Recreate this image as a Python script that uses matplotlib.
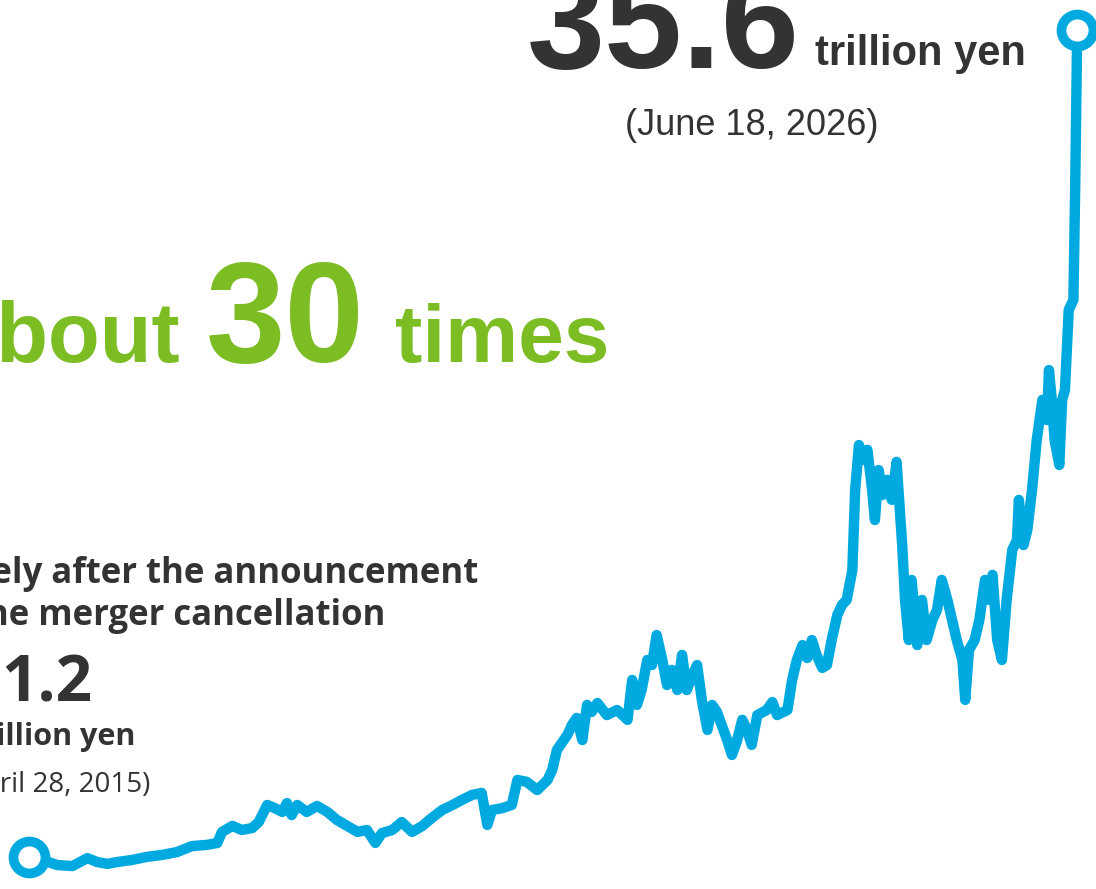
import matplotlib.pyplot as plt

W, H = 1096, 889

# market capitalisation, trillion yen
years = [2015.32, 2015.46, 2015.62, 2015.78, 2015.94, 2016.04, 2016.15, 2016.26, 2016.41, 2016.57,
         2016.73, 2016.89, 2017.05, 2017.21, 2017.32, 2017.37, 2017.48, 2017.58, 2017.69, 2017.76,
         2017.85, 2017.93, 2018.01, 2018.06, 2018.11, 2018.17, 2018.27, 2018.38, 2018.49, 2018.59,
         2018.70, 2018.81, 2018.91, 2019.00, 2019.07, 2019.18, 2019.28, 2019.39, 2019.50, 2019.60,
         2019.71, 2019.82, 2019.92, 2020.03, 2020.13, 2020.19, 2020.24, 2020.35, 2020.45, 2020.51,
         2020.61, 2020.72, 2020.83, 2020.88, 2020.93, 2021.04, 2021.09, 2021.14, 2021.20, 2021.25,
         2021.30, 2021.36, 2021.46, 2021.57, 2021.68, 2021.73, 2021.78, 2021.83, 2021.89, 2021.94,
         2021.99, 2022.05, 2022.10, 2022.15, 2022.21, 2022.26, 2022.31, 2022.37, 2022.42, 2022.47,
         2022.53, 2022.58, 2022.63, 2022.74, 2022.79, 2022.84, 2022.90, 2022.95, 2023.00, 2023.06,
         2023.16, 2023.22, 2023.27, 2023.38, 2023.43, 2023.48, 2023.54, 2023.59, 2023.64, 2023.69,
         2023.75, 2023.80, 2023.85, 2023.91, 2023.96, 2024.01, 2024.07, 2024.10, 2024.14, 2024.18,
         2024.23, 2024.28, 2024.31, 2024.35, 2024.39, 2024.44, 2024.49, 2024.54, 2024.60, 2024.63,
         2024.67, 2024.70, 2024.76, 2024.81, 2024.86, 2024.92, 2024.97, 2025.02, 2025.08, 2025.13,
         2025.18, 2025.24, 2025.27, 2025.31, 2025.37, 2025.42, 2025.48, 2025.52, 2025.56, 2025.61,
         2025.66, 2025.71, 2025.77, 2025.82, 2025.84, 2025.89, 2025.93, 2025.98, 2026.03, 2026.09,
         2026.14, 2026.16, 2026.19, 2026.22, 2026.27, 2026.30, 2026.33, 2026.37, 2026.42, 2026.44,
         2026.46]
values = [1.21, 1.08, 0.87, 0.83, 1.16, 1.00, 0.92, 1.00, 1.08, 1.21,
          1.29, 1.41, 1.66, 1.71, 1.79, 2.25, 2.50, 2.33, 2.41, 2.66,
          3.37, 3.24, 3.08, 3.45, 2.95, 3.37, 3.08, 3.33, 3.08, 2.75,
          2.50, 2.25, 2.33, 1.79, 2.20, 2.33, 2.66, 2.25, 2.50, 2.83,
          3.16, 3.37, 3.58, 3.79, 3.87, 2.54, 3.16, 3.24, 3.37, 4.41,
          4.33, 3.99, 4.41, 4.83, 5.66, 6.28, 6.70, 6.99, 6.07, 7.53,
          7.24, 7.61, 7.11, 7.32, 6.91, 8.57, 7.53, 8.15, 9.40, 9.19,
          10.44, 9.40, 8.36, 8.99, 8.15, 9.61, 8.15, 8.78, 9.19, 7.74,
          6.49, 7.53, 7.24, 6.07, 5.45, 5.99, 6.91, 6.49, 5.87, 7.11,
          7.32, 7.65, 7.11, 7.32, 8.57, 9.40, 10.02, 9.48, 10.23, 9.61,
          9.07, 9.19, 10.23, 11.27, 11.69, 11.90, 13.14, 16.47, 18.34, 17.72,
          18.14, 16.47, 15.22, 17.30, 16.26, 16.89, 16.06, 17.64, 14.18, 11.90,
          10.23, 12.73, 10.02, 11.90, 10.23, 11.06, 11.48, 12.73, 11.90, 11.06,
          10.23, 9.40, 7.74, 9.82, 10.23, 11.06, 12.73, 11.90, 12.94, 10.23,
          9.40, 11.90, 13.98, 14.39, 16.06, 14.18, 14.81, 16.47, 18.55, 20.22,
          19.38, 21.46, 20.22, 18.55, 17.51, 20.22, 20.63, 23.96, 24.38, 29.37,
          35.61]

blue = "#00a9df"
green = "#7bbd23"
dark = "#333333"

fig = plt.figure(figsize=(W / 100, H / 100), dpi=100)
ax = fig.add_axes([0, 0, 1, 1])
ax.plot(years, values, color=blue, lw=7.5, solid_joinstyle="round", solid_capstyle="round")
# start / end points
ax.plot([years[0], years[-1]], [values[0], values[-1]], "o", ms=23, mfc="white",
        mec=blue, mew=7)
ax.set_xlim(2015.01, 2026.66)
ax.set_ylim(-0.125, 36.85)
ax.axis("off")


def txt(x, y, s, **kw):
    # place text by pixel position (y measured from the top)
    fig.text(x / W, 1 - y / H, s, va="baseline", **kw)


arial = "Liberation Sans"
segoe = "Open Sans"

txt(800, 68, "35.6", ha="right", family=arial, weight="bold", size=101, color=dark)
txt(815, 65, "trillion yen", ha="left", family=arial, weight="bold", size=30, color=dark)
txt(752, 135, "(June 18, 2026)", ha="center", family=arial, size=26, color=dark)

txt(181, 362, "About", ha="right", family=arial, weight="bold", size=61, color=green)
txt(285, 362, "30", ha="center", family=arial, weight="bold", size=103, color=green)
txt(395, 362, "times", ha="left", family=arial, weight="bold", size=59, color=green)

txt(478, 583, "Immediately after the announcement", ha="right", family=segoe,
    weight="bold", size=25, color=dark)
txt(385, 625, "of the merger cancellation", ha="right", family=segoe,
    weight="bold", size=25, color=dark)
txt(92, 701, "1.2", ha="right", family=segoe, weight="bold", size=46, color=dark)
txt(135, 745, "trillion yen", ha="right", family=segoe, weight="bold", size=22, color=dark)
txt(150, 792, "(April 28, 2015)", ha="right", family=segoe, size=20, color=dark)

fig.savefig("out.png", dpi=100)
